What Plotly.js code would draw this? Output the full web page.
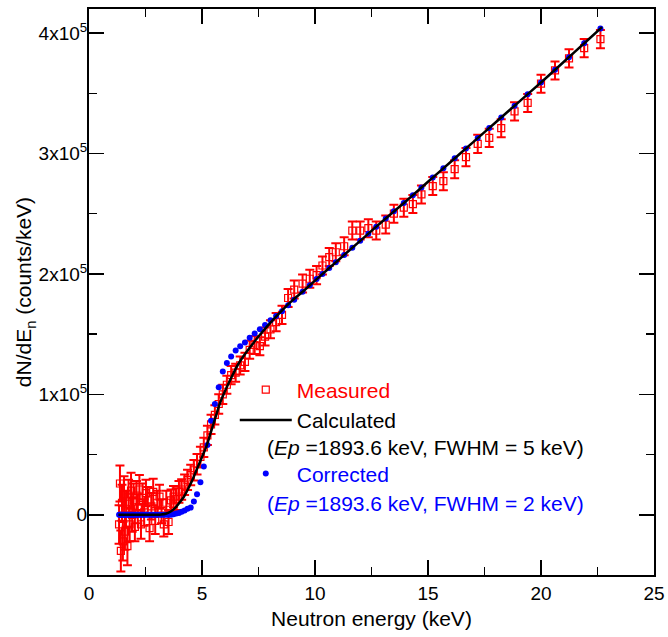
<!DOCTYPE html>
<html>
<head>
<meta charset="utf-8">
<script src="https://cdn.plot.ly/plotly-3.0.1.min.js"></script>
<style>html,body{margin:0;padding:0;background:#fff;}</style>
</head>
<body>
<div id="chart" style="width:668px;height:637px;"></div>
<script>
// Neutron energy grid (keV), shared by measured and corrected spectra
const energy = [1.33,1.37,1.41,1.46,1.50,1.55,1.59,1.64,1.70,1.75,1.80,1.86,1.91,1.97,
  2.03,2.10,2.16,2.23,2.30,2.37,2.44,2.52,2.60,2.68,2.76,2.84,2.93,
  3.02,3.12,3.21,3.31,3.42,3.52,3.63,3.74,3.86,3.98,
  4.10,4.23,4.36,4.50,4.64,4.78,4.93,
  5.08,5.24,5.40,5.57,5.74,5.92,
  6.10,6.29,6.49,6.69,6.90,
  7.11,7.33,7.56,7.79,
  8.03,8.28,8.54,8.81,
  9.08,9.45,9.77,
  10.07,10.33,10.63,10.92,
  11.29,11.65,
  12.00,12.36,12.71,
  13.13,13.49,13.93,
  14.33,14.71,
  15.21,15.68,
  16.18,16.68,
  17.20,17.71,
  18.24,18.83,
  19.41,
  20.00,20.62,
  21.24,21.91,
  22.63];

// Measured dN/dEn (counts/keV)
const measured = [-8000,26000,-30000,10000,-22000,17000,-14000,5000,-26000,15000,-8000,20000,0,12000,
  -10000,16000,5000,21000,-8000,14000,2000,18000,12000,-11000,7000,19000,-5000,
  10000,15000,3000,-8000,10000,-6000,12000,15000,13000,19000,
  21000,25000,29000,33000,37000,42000,48000,
  56000,66000,75000,83000,92000,100000,
  108000,116000,118000,124000,127000,
  137000,141000,140000,148000,
  154000,160000,166000,180000,
  187000,192000,196000,
  199000,207000,214000,218000,
  223000,236000,
  236000,238000,236000,
  241000,250000,255000,
  258000,266000,
  273000,277000,
  287000,297000,
  308000,313000,
  321000,335000,
  342000,
  358000,369000,
  379000,387500,
  395000];

// Measured uncertainties (counts/keV)
const measuredErr = [16000,15000,17000,15000,16000,15000,15000,15000,16000,14000,14000,15000,14000,14000,
  12000,12000,12000,12000,12000,12000,11000,11000,11000,11000,11000,11000,11000,
  10000,10000,10000,10000,10000,10000,9000,9000,9000,9000,
  8500,8500,8500,8500,8500,8500,8500,
  8000,8000,8000,8000,8000,8000,
  7500,7500,7500,7500,7500,
  7500,7500,7500,7500,
  7500,7500,7500,7500,
  7500,7500,7500,
  7500,7500,7500,7500,
  7500,7500,
  7500,7500,7500,
  7500,7500,7500,
  7500,7500,
  7500,7500,
  7500,7500,
  7500,7500,
  7500,7500,
  7500,
  7500,7500,
  7500,7500,
  7500];

// Corrected spectrum (Ep = 1893.6 keV, FWHM = 2 keV)
const corrected = [0,0,0,0,0,0,0,0,0,0,0,0,0,0,
  0,0,0,0,0,0,0,0,0,0,0,0,0,
  0,0,0,0,0,0,0,500,1000,1500,
  2500,3500,5000,6000,11000,17000,27000,
  40000,58000,78000,92000,106000,119000,
  126000,131500,136500,140000,143000,
  147000,150500,154000,157500,
  161500,165000,169000,174000,
  178500,185200,190600,
  195700,200000,205000,209700,
  215800,221800,
  227500,233400,239200,
  246100,252000,258900,
  265300,271800,
  280000,287800,
  296000,304200,
  312800,321200,
  330000,339700,
  349300,
  359000,369500,
  380000,391500,
  403800];

// Calculated spectrum (Ep = 1893.6 keV, FWHM = 5 keV)
const calcEnergy = [1.3,2.0,2.5,3.0,3.2,3.4,3.6,3.8,4.0,4.2,4.4,4.6,4.8,5.0,5.2,5.4,5.6,5.8,6.0,6.3,6.6,7.0,7.5,8.0,8.5,9.0,9.5,10,11,12,13,14,15,16,17,18,19,20,21,22,22.7];
const calculated = [0,0,0,0,200,800,2500,5500,10000,15000,22000,30000,39000,48000,57000,69000,81000,93000,102000,114000,125000,136000,148000,159000,169000,178000,186000,194500,211000,227500,244000,260000,276500,293000,309500,326000,342500,359000,376000,393000,405000];

// Axis ticks
const xTickVals = [0,5,10,15,20,25];
const xTickText = ['0','5','10','15','20','25'];
const xMinorVals = [2.5,7.5,12.5,17.5,22.5];
const yTickVals = [0,100000,200000,300000,400000];
const yTickText = ['0','1x10<sup>5</sup>','2x10<sup>5</sup>','3x10<sup>5</sup>','4x10<sup>5</sup>'];
const yMinorVals = [50000,150000,250000,350000];

const FONT = 'Arial, "Liberation Sans", sans-serif';

const traces = [
  {
    x: energy, y: measured, type: 'scatter', mode: 'markers',
    name: '<span style="color:#ff0000">Measured</span>',
    marker: {symbol: 'square-open', size: 7, color: '#ff0000', line: {width: 1.2, color: '#ff0000'}},
    error_y: {type: 'data', array: measuredErr, visible: true, color: '#ff0000', thickness: 2, width: 4.5},
    legend: 'legend'
  },
  {
    x: energy, y: corrected, type: 'scatter', mode: 'markers',
    name: '<span style="color:#0000ff">Corrected</span>',
    marker: {symbol: 'circle', size: 6, color: '#0000ff'},
    legend: 'legend2'
  },
  {
    x: calcEnergy, y: calculated, type: 'scatter', mode: 'lines',
    name: 'Calculated',
    line: {color: '#000000', width: 2.5, shape: 'spline', smoothing: 0.8},
    legend: 'legend'
  }
];

const axisCommon = {
  showline: true, linewidth: 2, linecolor: '#000', mirror: 'ticks',
  ticks: 'inside', ticklen: 15, tickwidth: 1.5, tickcolor: '#000',
  showgrid: false, zeroline: false,
  tickfont: {family: FONT, size: 19, color: '#000'}
};

const layout = {
  width: 668, height: 637,
  margin: {l: 89, r: 14, t: 9, b: 62},
  paper_bgcolor: '#fff', plot_bgcolor: '#fff',
  font: {family: FONT, size: 19, color: '#000'},
  showlegend: true,
  xaxis: Object.assign({}, axisCommon, {
    range: [0, 25], tickmode: 'array', tickvals: xTickVals, ticktext: xTickText,
    minor: {tickmode: 'array', tickvals: xMinorVals, ticks: 'inside', ticklen: 8, tickwidth: 1.5, tickcolor: '#000'},
    title: {text: 'Neutron energy (keV)', font: {family: FONT, size: 21, color: '#000'}, standoff: 9}
  }),
  yaxis: Object.assign({}, axisCommon, {
    range: [-50000, 420000], tickmode: 'array', tickvals: yTickVals, ticktext: yTickText,
    ticklabelstandoff: -4,
    minor: {tickmode: 'array', tickvals: yMinorVals, ticks: 'inside', ticklen: 8, tickwidth: 1.5, tickcolor: '#000'},
    title: {text: 'dN/dE<sub>n</sub> (counts/keV)', font: {family: FONT, size: 21, color: '#000'}, standoff: 0}
  }),
  legend: {
    x: 0.258, y: 0.363, xanchor: 'left', yanchor: 'top',
    bgcolor: 'rgba(0,0,0,0)', borderwidth: 0, itemwidth: 52,
    font: {family: FONT, size: 21, color: '#000'}, traceorder: 'normal'
  },
  legend2: {
    x: 0.258, y: 0.215, xanchor: 'left', yanchor: 'top',
    bgcolor: 'rgba(0,0,0,0)', borderwidth: 0, itemwidth: 52,
    font: {family: FONT, size: 21, color: '#000'}
  },
  annotations: [
    {xref: 'paper', yref: 'paper', x: 0.3115, y: 0.226, xanchor: 'left', yanchor: 'middle',
     text: '(<i>Ep</i> =1893.6 keV, FWHM = 5 keV)', showarrow: false,
     font: {family: FONT, size: 21, color: '#000'}},
    {xref: 'paper', yref: 'paper', x: 0.3115, y: 0.127, xanchor: 'left', yanchor: 'middle',
     text: '(<i>Ep</i> =1893.6 keV, FWHM = 2 keV)', showarrow: false,
     font: {family: FONT, size: 21, color: '#0000ff'}}
  ]
};

Plotly.newPlot('chart', traces, layout, {displayModeBar: false, staticPlot: true});
</script>
</body>
</html>
